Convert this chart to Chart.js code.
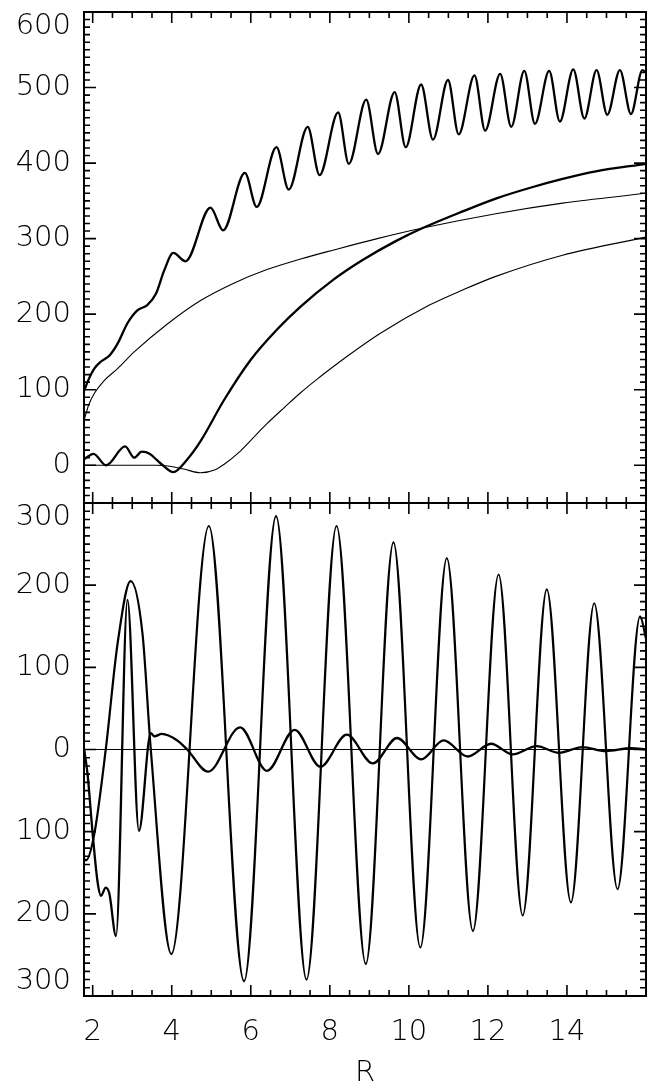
<!DOCTYPE html>
<html>
<head>
<meta charset="utf-8">
<script src="https://cdn.jsdelivr.net/npm/chart.js@4.4.1/dist/chart.umd.min.js"></script>
<style>
  html, body { margin: 0; padding: 0; background: #fff; }
  #topBox { position: absolute; left: 0; top: 0; width: 654px; height: 504px; }
  #bottomBox { position: absolute; left: 0; top: 503px; width: 654px; height: 580px; }
</style>
</head>
<body>
<div id="topBox"><canvas id="topChart"></canvas></div>
<div id="bottomBox"><canvas id="bottomChart"></canvas></div>
<script>
// x range and ticks (shared)
const xMin = 1.78
const xMax = 16.0
const xTicks = [2, 4, 6, 8, 10, 12, 14]
const xTickLabels = ['2', '4', '6', '8', '10', '12', '14']

// upper panel ticks
const topTicks = [0, 100, 200, 300, 400, 500, 600]
const topTickLabels = ['0', '100', '200', '300', '400', '500', '600']

// lower panel ticks (the original prints no minus signs)
const bottomTicks = [-300, -200, -100, 0, 100, 200, 300]
const bottomTickLabels = ['300', '200', '100', '0', '100', '200', '300']

// upper panel: oscillating thick curve
const aR = [1.785, 1.9, 2.04, 2.2, 2.42, 2.63, 2.88, 3.13, 3.38, 3.6, 3.81, 4.04, 4.35, 4.98, 5.30, 5.85, 6.15, 6.65, 6.96, 7.44, 7.74, 8.21, 8.48, 8.92, 9.22, 9.64, 9.92, 10.31, 10.61, 10.99, 11.26, 11.66, 11.93, 12.31, 12.59, 12.92, 13.19, 13.55, 13.82, 14.16, 14.44, 14.75, 15.02, 15.34, 15.62, 15.91, 16.0]
const aVal = [99, 114, 128, 137, 145, 161, 188, 205, 212, 227, 258, 281, 270, 341, 311, 387, 342, 421, 365, 448, 384, 467, 399, 484, 412, 494, 421, 504, 431, 510, 438, 516, 443, 518, 448, 522, 452, 522, 455, 524, 459, 523, 464, 523, 465, 523, 520]

// upper panel: thick smooth curve
const bR = [1.785, 2.02, 2.34, 2.82, 3.05, 3.24, 3.45, 3.62, 3.75, 4.04, 4.38, 4.73, 5.32, 5.99, 6.67, 7.26, 8.1, 8.84, 9.68, 10.35, 11.36, 12.2, 13.05, 13.89, 14.73, 16.0]
const bVal = [8, 15, 0, 25, 10, 18, 15, 7, 1, -9, 7, 32, 86, 139, 180, 210, 246, 272, 297, 314, 336, 353, 367, 379, 389, 399]

// upper panel: thin upper curve
const cR = [1.785, 1.9, 2.04, 2.29, 2.63, 3.05, 3.89, 4.73, 5.57, 6.41, 7.26, 8.1, 9.2, 10.35, 12.2, 13.89, 16.0]
const cVal = [60, 80, 95, 112, 128, 150, 187, 218, 241, 259, 273, 285, 300, 314, 333, 347, 360]

// upper panel: thin lower curve
const dR = [1.785, 3.6, 3.9, 4.3, 4.73, 5.1, 5.32, 5.7, 6.0, 6.41, 6.84, 7.26, 7.68, 8.1, 8.33, 9.26, 10.52, 11.36, 12.2, 13.89, 16.0]
const dVal = [0, 0, -1, -5, -10, -6, 1, 17, 33, 55, 76, 96, 114, 131, 140, 174, 212, 232, 250, 278, 302]

// lower panel: large oscillation
const eR = [1.785, 1.83, 2.04, 2.33, 2.63, 2.96, 3.26, 3.47, 3.99, 4.94, 5.83, 6.64, 7.41, 8.17, 8.91, 9.61, 10.29, 10.96, 11.62, 12.27, 12.88, 13.49, 14.1, 14.69, 15.28, 15.85, 16.0]
const eVal = [-133, -135, -103, 0, 129, 205, 141, 0, -249, 272, -282, 284, -280, 272, -261, 252, -241, 233, -221, 213, -202, 195, -186, 178, -170, 162, 135]

// lower panel: small damped oscillation
const fR = [1.785, 1.87, 2.0, 2.12, 2.21, 2.33, 2.42, 2.59, 2.88, 3.17, 3.47, 3.56, 3.75, 4.14, 4.39, 4.92, 5.73, 6.41, 7.11, 7.76, 8.43, 9.09, 9.7, 10.31, 10.88, 11.49, 12.08, 12.63, 13.23, 13.8, 14.39, 14.98, 15.62, 16.0]
const fVal = [0, -30, -103, -160, -178, -168, -175, -227, 182, -99, 20, 16, 19, 11, 0, -27, 27, -26, 24, -21, 18, -17, 14, -12, 11, -8.5, 7, -6, 4, -4, 3, -2, 1.5, 0]

// lower panel: zero line
const zeroR = [1.785, 16.0]
const zeroVal = [0, 0]

const labelFont = { family: 'DejaVu Sans', size: 29, weight: 200, lineHeight: 1 }

function pts(xs, ys) {
  return xs.map((x, i) => ({ x: x, y: ys[i] }))
}

function curve(xs, ys, width) {
  return {
    data: pts(xs, ys),
    borderColor: '#000',
    borderWidth: width,
    pointRadius: 0,
    fill: false,
    cubicInterpolationMode: 'monotone',
  }
}

// IDL style frame with inward ticks on all four sides
const idlFrame = {
  id: 'idlFrame',
  afterDatasetsDraw(chart, args, opts) {
    const { ctx, chartArea } = chart
    const { left, right, top, bottom } = chartArea
    const x = chart.scales.x
    const y = chart.scales.y
    const isMajor = (v, m) => Math.abs(v / m - Math.round(v / m)) < 1e-6
    ctx.save()
    ctx.strokeStyle = '#000'
    ctx.lineWidth = 1.6
    ctx.beginPath()
    for (let i = Math.ceil(xMin / 0.5); i * 0.5 <= xMax + 1e-9; i++) {
      const v = i * 0.5
      const px = x.getPixelForValue(v)
      const len = isMajor(v, 2) ? 11 : 6
      ctx.moveTo(px, top); ctx.lineTo(px, top + len)
      ctx.moveTo(px, bottom); ctx.lineTo(px, bottom - len)
    }
    for (let i = Math.ceil(y.min / 10); i * 10 <= y.max; i++) {
      const v = i * 10
      const py = y.getPixelForValue(v)
      const len = isMajor(v, 100) ? 12 : 6
      ctx.moveTo(left, py); ctx.lineTo(left + len, py)
      ctx.moveTo(right, py); ctx.lineTo(right - len, py)
    }
    ctx.stroke()
    ctx.lineWidth = 2
    ctx.strokeRect(left, top, right - left, bottom - top)
    ctx.restore()
  }
}

function yScale(min, max, ticks, labels) {
  return {
    min: min,
    max: max,
    afterBuildTicks: (s) => { s.ticks = ticks.map((v) => ({ value: v })) },
    afterFit: (s) => { s.width = 84; s.paddingTop = 0; s.paddingBottom = 0 },
    grid: { display: false, drawTicks: false },
    border: { display: false },
    ticks: {
      padding: 13,
      color: '#000',
      font: labelFont,
      autoSkip: false,
      // keep the end labels inside the frame, as the original does
      callback: (v, i) => {
        if (i === labels.length - 1) return ['', labels[i]]
        if (i === 0 && min < -200) return [labels[i], '']
        return labels[i]
      },
    },
  }
}

const topChart = new Chart(document.getElementById('topChart'), {
  type: 'line',
  data: {
    datasets: [
      curve(aR, aVal, 2.3),
      curve(bR, bVal, 2.3),
      curve(cR, cVal, 1.1),
      curve(dR, dVal, 1.1),
    ],
  },
  options: {
    responsive: true,
    maintainAspectRatio: false,
    animation: false,
    layout: { padding: { top: 12, right: 8, bottom: 1, left: 0 } },
    plugins: { legend: { display: false }, tooltip: { enabled: false } },
    scales: {
      x: { type: 'linear', min: xMin, max: xMax, display: false },
      y: yScale(-50, 600, topTicks, topTickLabels),
    },
  },
  plugins: [idlFrame],
})

const bottomChart = new Chart(document.getElementById('bottomChart'), {
  type: 'line',
  data: {
    datasets: [
      curve(zeroR, zeroVal, 1.2),
      curve(eR, eVal, 2.2),
      curve(fR, fVal, 2.3),
    ],
  },
  options: {
    responsive: true,
    maintainAspectRatio: false,
    animation: false,
    layout: { padding: { top: 0, right: 8, bottom: 0, left: 0 } },
    plugins: { legend: { display: false }, tooltip: { enabled: false } },
    scales: {
      x: {
        type: 'linear',
        min: xMin,
        max: xMax,
        afterBuildTicks: (s) => { s.ticks = xTicks.map((v) => ({ value: v })) },
        afterFit: (s) => { s.height = 87; s.paddingLeft = 0; s.paddingRight = 0 },
        grid: { display: false, drawTicks: false },
        border: { display: false },
        ticks: {
          padding: 22,
          color: '#000',
          font: labelFont,
          maxRotation: 0,
          autoSkip: false,
          callback: (v, i) => xTickLabels[i],
        },
        title: { display: true, text: 'R', color: '#000', font: { family: 'DejaVu Sans', size: 29, weight: 200, lineHeight: 0.65 }, padding: 0 },
      },
      y: yScale(-300, 300, bottomTicks, bottomTickLabels),
    },
  },
  plugins: [idlFrame],
})
</script>
</body>
</html>
